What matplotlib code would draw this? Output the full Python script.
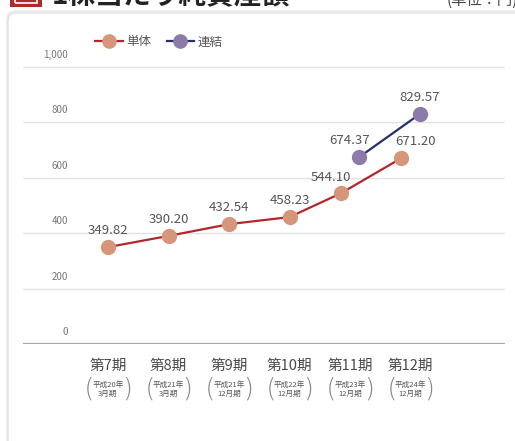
import numpy as np
import matplotlib
matplotlib.use("Agg")
import matplotlib.pyplot as plt
from matplotlib.lines import Line2D
from matplotlib.patches import FancyBboxPatch, Rectangle

plt.rcParams['font.family'] = ['Noto Sans CJK JP', 'DejaVu Sans']

periods = ["第7期", "第8期", "第9期", "第10期", "第11期", "第12期"]
period_notes = ["平成20年\n3月期", "平成21年\n3月期", "平成21年\n12月期",
                "平成22年\n12月期", "平成23年\n12月期", "平成24年\n12月期"]
tandoku = [349.82, 390.20, 432.54, 458.23, 544.10, 671.20]
renketsu = [np.nan, np.nan, np.nan, np.nan, 674.37, 829.57]
yticks = [0, 200, 400, 600, 800, 1000]

c_tan_line = "#b3262b"
c_tan_mark = "#d6967a"
c_ren_line = "#25306c"
c_ren_mark = "#8c7aab"
c_text = "#555555"

W, H = 515, 441
fig = plt.figure(figsize=(W / 100, H / 100), dpi=100)
fig.patch.set_facecolor("white")

# card behind the chart (top edge 13px below the top)
card_top = (H - 13) / 100
for i, a in enumerate([0.04, 0.07]):
    fig.patches.append(FancyBboxPatch((0.08 - 0.01 * i, -0.2), 5.4, card_top + 0.2 + 0.01 * (i + 1),
                                      boxstyle="round,pad=0,rounding_size=0.08",
                                      transform=fig.dpi_scale_trans,
                                      fc="none", ec=(0, 0, 0, a), lw=1.2, zorder=-2))
fig.patches.append(FancyBboxPatch((0.08, -0.2), 5.4, card_top + 0.2,
                                  boxstyle="round,pad=0,rounding_size=0.08",
                                  transform=fig.dpi_scale_trans,
                                  fc="white", ec="#e2e2e2", lw=1.0, zorder=-1))

# heading strip (cut off at the top)
fig.patches.append(Rectangle((10 / 100, (H - 7) / 100), 32 / 100, 12 / 100,
                             transform=fig.dpi_scale_trans, fc="#b22a2a", ec="none"))
fig.patches.append(Rectangle((15 / 100, (H - 3) / 100), 22 / 100, 8 / 100,
                             transform=fig.dpi_scale_trans, fc="none", ec="white", lw=1.2))
fig.text(52 / W, 1 - 3 / H, "1株当たり純資産額", fontsize=20, fontweight="bold",
         color="#222222", va="baseline", ha="left")
fig.text(447 / W, 1 - 5 / H, "(単位：円)", fontsize=11, color="#444444",
         va="baseline", ha="left")

# axes: category 0 sits at x=108px, 60.5px per category; y=0 at 344px
px_cat = 60.5
x0_px = 108
left_px, right_px = 23, 505
bottom_px, top_px = 344, 20
px_per_unit = 277 / 1000
ax = fig.add_axes([left_px / W, (H - bottom_px) / H,
                   (right_px - left_px) / W, (bottom_px - top_px) / H])
ax.set_xlim((left_px - x0_px) / px_cat, (right_px - x0_px) / px_cat)
ax.set_ylim(0, (bottom_px - top_px) / px_per_unit)
ax.patch.set_alpha(0)
for s in ax.spines.values():
    s.set_visible(False)
ax.set_xticks([])
ax.set_yticks([])

for v in yticks[1:]:
    ax.axhline(v, color="#e2e2e2", lw=1.0, zorder=1)
ax.axhline(0, color="#a8a8a8", lw=1.6, zorder=2)

label_x = (68 - x0_px) / px_cat
for v in yticks:
    ax.annotate(f"{v:,}", (label_x, v), xytext=(0, 5), textcoords="offset points",
                ha="right", va="bottom", fontsize=7, color="#777777",
                fontstretch="condensed")

x = np.arange(len(periods), dtype=float)
tan = np.array(tandoku)
ren = np.array(renketsu)
both = ~np.isnan(tan) & ~np.isnan(ren)
dodge = 0.15
x_tan = x - np.where(both, dodge, 0)
x_ren = x + np.where(both, dodge, 0)

ax.plot(x_tan, tan, color=c_tan_line, lw=1.6, marker="o", ms=10,
        mfc=c_tan_mark, mec=c_tan_mark, zorder=4, clip_on=False)
ax.plot(x_ren, ren, color=c_ren_line, lw=1.6, marker="o", ms=10,
        mfc=c_ren_mark, mec=c_ren_mark, zorder=4, clip_on=False)

# move the crowded labels on the last two periods apart
nudge = {("t", 4): -7, ("t", 5): 10, ("r", 4): -7}
for key, xs, ys in (("t", x_tan, tan), ("r", x_ren, ren)):
    for i, (xi, yi) in enumerate(zip(xs, ys)):
        if np.isnan(yi):
            continue
        ax.annotate(f"{yi:.2f}", (xi, yi), xytext=(nudge.get((key, i), 0), 7),
                    textcoords="offset points", ha="center", va="bottom",
                    fontsize=9.5, color=c_text, zorder=5)

# period labels under the axis
for i, (p, n) in enumerate(zip(periods, period_notes)):
    ax.annotate(p, (i, 0), xytext=(0, -16), textcoords="offset points",
                ha="center", va="center", fontsize=10.5, color="#4a4a4a",
                annotation_clip=False)
    ax.annotate(n, (i, 0), xytext=(0, -32.5), textcoords="offset points",
                ha="center", va="center", fontsize=5.5, color=c_text,
                linespacing=1.1, annotation_clip=False)
    for sign, br in ((-1, "("), (1, ")")):
        ax.annotate(br, (i, 0), xytext=(sign * 14, -32), textcoords="offset points",
                    ha="center", va="center", fontsize=17, color="#888888",
                    fontweight="light", annotation_clip=False)

handles = [Line2D([], [], color=c_tan_line, lw=1.6, marker="o", ms=9.5,
                  mfc=c_tan_mark, mec=c_tan_mark),
           Line2D([], [], color=c_ren_line, lw=1.6, marker="o", ms=9.5,
                  mfc=c_ren_mark, mec=c_ren_mark)]
fig.legend(handles, ["単体", "連結"], loc="center left",
           bbox_to_anchor=(84 / W, 1 - 42 / H), ncol=2, frameon=False,
           fontsize=9, handlelength=2.2, handletextpad=0.3, columnspacing=1.2,
           labelcolor=c_text)

fig.savefig("out.png", dpi=100)
